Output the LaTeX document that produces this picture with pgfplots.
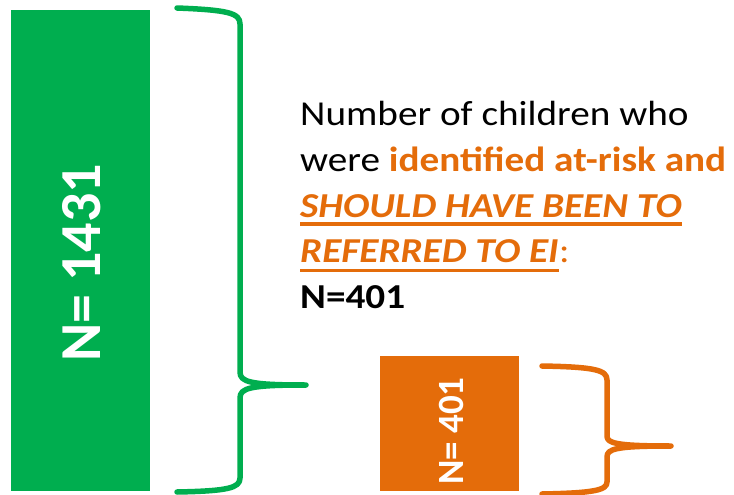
\documentclass[border=0pt]{standalone}
\usepackage{fontspec}
\setmainfont{Carlito}
\newfontfamily\wide{Carlito}[FakeStretch=1.12]
\usepackage{pgfplots}
\pgfplotsset{compat=1.18}
\definecolor{cgreen}{HTML}{00AE4F}
\definecolor{corange}{HTML}{E46C0A}
\begin{document}
\begin{tikzpicture}
\path[use as bounding box] (0,0) rectangle (734pt,495pt);
% bars
\begin{axis}[width=734pt,height=495pt,scale only axis,hide axis,
  xmin=0,xmax=734,ymin=-11.9,ymax=1460.9,clip=false]
\addplot[ybar,bar width=139pt,bar shift=0pt,fill=cgreen,draw=none] coordinates {(80.5,1431)};
\addplot[ybar,bar width=139pt,bar shift=0pt,fill=corange,draw=none] coordinates {(449.5,401)};
\end{axis}
% annotations (pixel frame, y down)
\begin{axis}[width=734pt,height=495pt,scale only axis,hide axis,
  xmin=0,xmax=734,ymin=0,ymax=495,y dir=reverse,clip=false]
% bar labels
\node[rotate=90,text=white,font=\fontsize{58}{60}\selectfont\bfseries,inner sep=0]
  at (axis cs:82,263) {N= 1431};
\node[rotate=90,text=white,font=\fontsize{37}{40}\selectfont\bfseries,inner sep=0]
  at (axis cs:451,431) {N= 401};
% green brace
\draw[cgreen,line width=5.5pt,line cap=round,line join=round]
  (axis cs:177,8) .. controls (axis cs:228,10) and (axis cs:240,13) .. (axis cs:240,24)
  -- (axis cs:240,372) .. controls (axis cs:240,382) and (axis cs:250,385) .. (axis cs:306,385)
  .. controls (axis cs:250,385) and (axis cs:240,388) .. (axis cs:240,398)
  -- (axis cs:240,478) .. controls (axis cs:240,488) and (axis cs:228,491) .. (axis cs:177,492);
% orange brace
\draw[corange,line width=5.5pt,line cap=round,line join=round]
  (axis cs:542,366) .. controls (axis cs:595,367) and (axis cs:607,370) .. (axis cs:607,380)
  -- (axis cs:607,436) .. controls (axis cs:607,443) and (axis cs:615,446) .. (axis cs:671,446)
  .. controls (axis cs:615,446) and (axis cs:607,449) .. (axis cs:607,457)
  -- (axis cs:607,482) .. controls (axis cs:607,490) and (axis cs:595,493) .. (axis cs:542,494);
% text block
\node[anchor=base west,inner sep=0,font=\wide\fontsize{35}{40}\selectfont]
  (l1) at (axis cs:300,125) {Number of children who};
\node[anchor=base west,inner sep=0,font=\wide\fontsize{35}{40}\selectfont]
  (l2) at (axis cs:300,171) {were \textcolor{corange}{\bfseries identified at-risk and}};
\node[anchor=base west,inner sep=0,font=\wide\fontsize{35}{40}\selectfont\bfseries\itshape,text=corange]
  (l3) at (axis cs:300,217) {SHOULD HAVE BEEN TO};
\node[anchor=base west,inner sep=0,font=\wide\fontsize{35}{40}\selectfont\bfseries\itshape,text=corange]
  (l4) at (axis cs:300,262.5) {REFERRED TO EI};
\node[anchor=base west,inner sep=0,font=\wide\fontsize{35}{40}\selectfont,text=corange]
  at (l4.base east) {:};
\node[anchor=base west,inner sep=0,font=\wide\fontsize{35}{40}\selectfont\bfseries]
  (l5) at (axis cs:300,308) {N=401};
\draw[corange,line width=3.2pt] ([yshift=-7pt]l3.base west) -- ([yshift=-7pt]l3.base east);
\draw[corange,line width=3.2pt] ([yshift=-8pt]l4.base west) -- ([yshift=-8pt]l4.base east);
\end{axis}
\end{tikzpicture}
\end{document}
